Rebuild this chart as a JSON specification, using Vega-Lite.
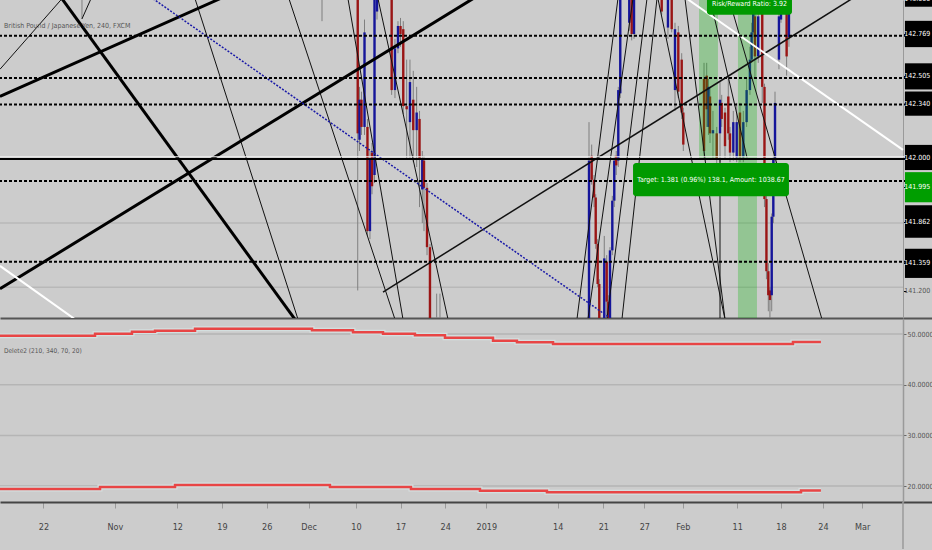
{
  "$schema": "https://vega.github.io/schema/vega-lite/v6.json",
  "background": "#cccccc",
  "padding": 0,
  "spacing": 1,
  "config": {
    "view": {"stroke": null},
    "font": "Liberation Sans Narrow, DejaVu Sans Condensed, Liberation Sans, sans-serif"
  },
  "datasets": {
    "candles": [
      {"d":4.32,"o":143.5,"h":143.6,"l":142.874,"c":143.4},
      {"d":31.2,"o":143.5,"h":143.6,"l":142.86,"c":143.3},
      {"d":35.2,"o":143.5,"h":143.6,"l":141.18,"c":142.16},
      {"d":35.4,"o":142.12,"h":142.45,"l":142.05,"c":142.37},
      {"d":35.62,"o":142.37,"h":142.42,"l":142.15,"c":142.2},
      {"d":35.96,"o":142.2,"h":142.87,"l":142.15,"c":142.79},
      {"d":36.29,"o":142.2,"h":142.25,"l":141.52,"c":141.55},
      {"d":36.57,"o":141.55,"h":142.05,"l":141.5,"c":142.0},
      {"d":36.8,"o":142.04,"h":142.1,"l":141.78,"c":141.83},
      {"d":37.08,"o":141.9,"h":143.6,"l":141.85,"c":143.5},
      {"d":37.36,"o":142.92,"h":143.4,"l":142.87,"c":143.3},
      {"d":39.0,"o":143.3,"h":143.4,"l":142.4,"c":142.43},
      {"d":39.37,"o":142.43,"h":142.75,"l":142.38,"c":142.69},
      {"d":39.71,"o":142.69,"h":142.86,"l":142.66,"c":142.83},
      {"d":39.99,"o":142.83,"h":142.88,"l":142.7,"c":142.78},
      {"d":40.3,"o":142.81,"h":142.86,"l":142.28,"c":142.33},
      {"d":40.68,"o":142.33,"h":142.62,"l":142.0,"c":142.31},
      {"d":41.05,"o":142.23,"h":142.62,"l":142.0,"c":142.48},
      {"d":41.42,"o":142.37,"h":142.55,"l":141.98,"c":142.18},
      {"d":41.8,"o":142.18,"h":142.45,"l":141.95,"c":142.29},
      {"d":42.12,"o":142.25,"h":142.3,"l":141.7,"c":142.0},
      {"d":42.43,"o":141.81,"h":142.05,"l":141.6,"c":142.0},
      {"d":42.62,"o":141.99,"h":142.02,"l":141.55,"c":141.82},
      {"d":42.96,"o":141.82,"h":141.85,"l":141.4,"c":141.45},
      {"d":43.29,"o":141.45,"h":141.47,"l":140.4,"c":140.5},
      {"d":44.04,"o":140.5,"h":141.16,"l":140.3,"c":140.7},
      {"d":44.41,"o":140.6,"h":141.16,"l":140.5,"c":140.8},
      {"d":61.1,"o":140.5,"h":142.23,"l":140.4,"c":141.99},
      {"d":61.4,"o":142.02,"h":142.09,"l":141.84,"c":141.87},
      {"d":61.66,"o":141.87,"h":141.9,"l":141.7,"c":141.76},
      {"d":61.85,"o":141.76,"h":141.78,"l":141.44,"c":141.47},
      {"d":62.07,"o":141.47,"h":141.5,"l":141.2,"c":141.22},
      {"d":62.25,"o":141.22,"h":141.25,"l":140.7,"c":140.8},
      {"d":62.81,"o":140.8,"h":141.52,"l":140.7,"c":141.38},
      {"d":63.08,"o":141.36,"h":141.4,"l":141.0,"c":141.11},
      {"d":63.26,"o":141.11,"h":141.15,"l":140.7,"c":140.8},
      {"d":63.45,"o":140.9,"h":141.45,"l":140.85,"c":141.43},
      {"d":63.71,"o":141.43,"h":141.77,"l":141.4,"c":141.74},
      {"d":63.93,"o":141.74,"h":142.02,"l":141.7,"c":141.99},
      {"d":64.15,"o":142.02,"h":142.05,"l":141.9,"c":141.96},
      {"d":64.38,"o":141.99,"h":142.45,"l":141.95,"c":142.43},
      {"d":64.6,"o":142.41,"h":143.4,"l":142.38,"c":143.3},
      {"d":65.61,"o":142.85,"h":143.4,"l":142.8,"c":143.3},
      {"d":65.88,"o":143.2,"h":143.3,"l":142.74,"c":142.78},
      {"d":66.14,"o":142.78,"h":143.3,"l":142.75,"c":143.2},
      {"d":69.24,"o":143.2,"h":143.3,"l":142.9,"c":142.92},
      {"d":69.94,"o":142.82,"h":143.3,"l":142.75,"c":143.2},
      {"d":70.36,"o":143.2,"h":143.3,"l":142.79,"c":142.81},
      {"d":70.73,"o":142.43,"h":142.85,"l":142.3,"c":142.81},
      {"d":71.1,"o":142.79,"h":142.83,"l":142.38,"c":142.42},
      {"d":71.48,"o":142.62,"h":142.66,"l":142.25,"c":142.29},
      {"d":71.66,"o":142.29,"h":142.32,"l":142.05,"c":142.09},
      {"d":73.98,"o":142.5,"h":142.6,"l":142.0,"c":142.05},
      {"d":74.28,"o":142.52,"h":142.6,"l":142.2,"c":142.31},
      {"d":74.48,"o":142.2,"h":142.5,"l":142.15,"c":142.45},
      {"d":74.65,"o":142.39,"h":142.45,"l":142.1,"c":142.16},
      {"d":74.98,"o":142.16,"h":142.3,"l":142.0,"c":142.18},
      {"d":75.4,"o":142.16,"h":142.2,"l":141.96,"c":142.0},
      {"d":75.77,"o":142.16,"h":142.48,"l":141.98,"c":142.37},
      {"d":75.96,"o":142.35,"h":142.4,"l":142.2,"c":142.25},
      {"d":76.33,"o":142.29,"h":142.32,"l":142.0,"c":142.08},
      {"d":76.7,"o":142.39,"h":142.5,"l":142.12,"c":142.16},
      {"d":76.89,"o":142.16,"h":142.2,"l":141.98,"c":142.04},
      {"d":77.26,"o":142.04,"h":142.3,"l":141.99,"c":142.23},
      {"d":77.64,"o":142.01,"h":142.35,"l":141.98,"c":142.23},
      {"d":78.01,"o":142.29,"h":142.35,"l":141.98,"c":142.01},
      {"d":78.38,"o":142.01,"h":142.3,"l":141.98,"c":142.23},
      {"d":78.75,"o":142.23,"h":142.5,"l":142.2,"c":142.43},
      {"d":79.12,"o":142.43,"h":142.7,"l":142.4,"c":142.62},
      {"d":79.31,"o":142.62,"h":142.85,"l":142.6,"c":142.79},
      {"d":79.49,"o":142.79,"h":143.3,"l":142.76,"c":143.2},
      {"d":79.68,"o":142.89,"h":142.95,"l":142.5,"c":142.64},
      {"d":80.05,"o":142.64,"h":143.0,"l":142.6,"c":142.89},
      {"d":80.5,"o":143.3,"h":143.4,"l":142.35,"c":142.45},
      {"d":80.75,"o":142.45,"h":142.47,"l":141.7,"c":141.75},
      {"d":80.97,"o":141.75,"h":141.78,"l":141.25,"c":141.3},
      {"d":81.18,"o":141.3,"h":141.35,"l":141.05,"c":141.15},
      {"d":81.36,"o":141.18,"h":141.2,"l":141.0,"c":141.12},
      {"d":81.56,"o":141.15,"h":141.66,"l":141.05,"c":141.64},
      {"d":81.74,"o":141.64,"h":142.02,"l":141.6,"c":142.0},
      {"d":81.93,"o":142.0,"h":142.42,"l":141.97,"c":142.35},
      {"d":82.37,"o":142.62,"h":142.92,"l":142.56,"c":142.89},
      {"d":82.6,"o":142.87,"h":143.3,"l":142.85,"c":143.2},
      {"d":83.23,"o":143.1,"h":143.3,"l":142.52,"c":142.64},
      {"d":83.49,"o":142.76,"h":143.3,"l":142.7,"c":143.2}
    ],
    "lines": [
      {"k":"thick","d1":-4.86,"p1":142.39,"d2":19.78,"p2":143.0},
      {"k":"thick","d1":-4.86,"p1":141.19,"d2":48.1,"p2":143.0},
      {"k":"thick","d1":2.08,"p1":143.0,"d2":28.17,"p2":141.0},
      {"k":"thin","d1":-4.86,"p1":142.56,"d2":2.08,"p2":143.0},
      {"k":"thin","d1":4.32,"p1":142.874,"d2":5.33,"p2":143.0},
      {"k":"thin","d1":16.98,"p1":143.0,"d2":28.51,"p2":141.0},
      {"k":"thin","d1":27.5,"p1":143.0,"d2":39.37,"p2":141.0},
      {"k":"thin","d1":34.11,"p1":143.0,"d2":40.27,"p2":141.0},
      {"k":"thin","d1":37.47,"p1":143.0,"d2":45.31,"p2":141.0},
      {"k":"mid","d1":38.03,"p1":141.17,"d2":90.55,"p2":143.0},
      {"k":"thin","d1":59.75,"p1":141.0,"d2":64.34,"p2":143.0},
      {"k":"thin","d1":60.98,"p1":141.0,"d2":66.02,"p2":143.0},
      {"k":"thin","d1":63.11,"p1":141.0,"d2":67.59,"p2":143.0},
      {"k":"thin","d1":64.79,"p1":141.0,"d2":68.71,"p2":143.0},
      {"k":"thin","d1":68.82,"p1":143.0,"d2":76.33,"p2":141.0},
      {"k":"thin","d1":71.85,"p1":143.0,"d2":76.33,"p2":141.0},
      {"k":"thin","d1":76.77,"p1":143.0,"d2":87.19,"p2":141.0},
      {"k":"thin","d1":75.77,"p1":142.0,"d2":75.77,"p2":141.0},
      {"k":"thin","d1":74.65,"p1":143.0,"d2":78.79,"p2":142.01},
      {"k":"blue","d1":12.27,"p1":143.0,"d2":63.67,"p2":141.0},
      {"k":"white","d1":-4.86,"p1":141.333,"d2":3.54,"p2":141.0},
      {"k":"white","d1":72.07,"p1":143.0,"d2":96.26,"p2":142.057}
    ],
    "tags": [
      {"t":"143.000","kind":"drawing","y1":143.05,"y2":142.95,"ym":143.0},
      {"t":"142.769","kind":"drawing","y1":142.862,"y2":142.698,"ym":142.78},
      {"t":"142.505","kind":"drawing","y1":142.597,"y2":142.434,"ym":142.516},
      {"t":"142.340","kind":"drawing","y1":142.421,"y2":142.27,"ym":142.346},
      {"t":"142.000","kind":"drawing","y1":142.088,"y2":141.931,"ym":142.006},
      {"t":"141.995","kind":"price","y1":141.918,"y2":141.73,"ym":141.824},
      {"t":"141.862","kind":"drawing","y1":141.711,"y2":141.509,"ym":141.61},
      {"t":"141.359","kind":"drawing","y1":141.44,"y2":141.258,"ym":141.352},
      {"t":"141.200","kind":"axis","y1":141.176,"y2":141.176,"ym":141.176}
    ],
    "steps": [
      {"s":"hi","d":-4.86,"v":49.66},{"s":"hi","d":5.78,"v":50.06},{"s":"hi","d":9.92,"v":50.45},
      {"s":"hi","d":12.5,"v":50.65},{"s":"hi","d":16.98,"v":51.05},{"s":"hi","d":30.08,"v":50.73},
      {"s":"hi","d":34.67,"v":50.34},{"s":"hi","d":38.03,"v":50.06},{"s":"hi","d":41.61,"v":49.74},
      {"s":"hi","d":44.97,"v":49.27},{"s":"hi","d":50.35,"v":48.68},{"s":"hi","d":53.03,"v":48.36},
      {"s":"hi","d":57.07,"v":48.03},{"s":"hi","d":83.94,"v":48.42},{"s":"hi","d":87.07,"v":48.42},
      {"s":"lo","d":-4.86,"v":19.41},{"s":"lo","d":6.34,"v":19.8},{"s":"lo","d":14.74,"v":20.2},
      {"s":"lo","d":32.09,"v":19.8},{"s":"lo","d":41.16,"v":19.41},{"s":"lo","d":48.89,"v":19.07},
      {"s":"lo","d":56.39,"v":18.76},{"s":"lo","d":84.84,"v":19.15},{"s":"lo","d":87.07,"v":19.15}
    ]
  },
  "vconcat": [
    {
      "width": 932,
      "height": 318,
      "layer": [
        {
          "data": {"values": [{"g": 141.2}, {"g": 141.6}]},
          "mark": {"type": "rule", "color": "#b8b8b8", "strokeWidth": 1.5, "clip": true},
          "encoding": {
            "y": {"field": "g", "type": "quantitative", "scale": {"domain": [141.008, 142.992], "nice": false, "zero": false},
              "axis": {"orient": "right", "offset": -29, "title": null, "labels": false, "grid": false,
                "values": [142.78, 142.516, 142.346, 142.006, 141.824, 141.61, 141.352, 141.176],
                "tickSize": 3, "tickColor": "#000000", "tickWidth": 1, "domain": true, "domainColor": "#9a9a9a", "domainWidth": 1}},
            "x": {"datum": -4.86, "type": "quantitative", "scale": {"domain": [-4.86, 99.51], "nice": false, "zero": false},
              "axis": {"orient": "bottom", "title": null, "labels": false, "ticks": false, "grid": false, "domain": true, "domainColor": "#555555", "domainWidth": 2}},
            "x2": {"datum": 96.26}
          }
        },
        {
          "data": {"name": "candles"},
          "mark": {"type": "rule", "color": "#7f7f7f", "strokeWidth": 1, "clip": true},
          "encoding": {
            "x": {"field": "d", "type": "quantitative"},
            "y": {"field": "l", "type": "quantitative"},
            "y2": {"field": "h"}
          }
        },
        {
          "data": {"name": "candles"},
          "mark": {"type": "rule", "strokeWidth": 2.4, "clip": true},
          "encoding": {
            "x": {"field": "d", "type": "quantitative"},
            "y": {"field": "o", "type": "quantitative"},
            "y2": {"field": "c"},
            "color": {"condition": {"test": "datum.c >= datum.o", "value": "#15159a"}, "value": "#9a1515"}
          }
        },
        {
          "data": {"values": [{"x1": 73.42, "x2": 75.54, "p1": 143.0, "p2": 142.0}, {"x1": 77.78, "x2": 79.91, "p1": 142.9, "p2": 140.9}]},
          "mark": {"type": "rect", "color": "#00b400", "opacity": 0.28, "clip": true},
          "encoding": {
            "x": {"field": "x1", "type": "quantitative"},
            "x2": {"field": "x2"},
            "y": {"field": "p1", "type": "quantitative"},
            "y2": {"field": "p2"}
          }
        },
        {
          "data": {"name": "lines"},
          "transform": [{"filter": "datum.k == 'thin'"}],
          "mark": {"type": "rule", "color": "#111111", "strokeWidth": 1, "clip": true},
          "encoding": {
            "x": {"field": "d1", "type": "quantitative"}, "x2": {"field": "d2"},
            "y": {"field": "p1", "type": "quantitative"}, "y2": {"field": "p2"}
          }
        },
        {
          "data": {"name": "lines"},
          "transform": [{"filter": "datum.k == 'mid'"}],
          "mark": {"type": "rule", "color": "#111111", "strokeWidth": 1.5, "clip": true},
          "encoding": {
            "x": {"field": "d1", "type": "quantitative"}, "x2": {"field": "d2"},
            "y": {"field": "p1", "type": "quantitative"}, "y2": {"field": "p2"}
          }
        },
        {
          "data": {"name": "lines"},
          "transform": [{"filter": "datum.k == 'thick'"}],
          "mark": {"type": "rule", "color": "#000000", "strokeWidth": 3, "clip": true},
          "encoding": {
            "x": {"field": "d1", "type": "quantitative"}, "x2": {"field": "d2"},
            "y": {"field": "p1", "type": "quantitative"}, "y2": {"field": "p2"}
          }
        },
        {
          "data": {"name": "lines"},
          "transform": [{"filter": "datum.k == 'blue'"}],
          "mark": {"type": "rule", "color": "#1a1aa8", "strokeWidth": 1.5, "strokeDash": [2, 1.5], "clip": true},
          "encoding": {
            "x": {"field": "d1", "type": "quantitative"}, "x2": {"field": "d2"},
            "y": {"field": "p1", "type": "quantitative"}, "y2": {"field": "p2"}
          }
        },
        {
          "data": {"name": "lines"},
          "transform": [{"filter": "datum.k == 'white'"}],
          "mark": {"type": "rule", "color": "#ffffff", "strokeWidth": 2, "clip": true},
          "encoding": {
            "x": {"field": "d1", "type": "quantitative"}, "x2": {"field": "d2"},
            "y": {"field": "p1", "type": "quantitative"}, "y2": {"field": "p2"}
          }
        },
        {
          "data": {"values": [{"v": 142.769}, {"v": 142.505}, {"v": 142.34}, {"v": 141.862}, {"v": 141.359}]},
          "mark": {"type": "rule", "color": "#000000", "strokeWidth": 2, "strokeDash": [3, 2], "clip": true},
          "encoding": {"y": {"field": "v", "type": "quantitative"}}
        },
        {
          "data": {"values": [{"v": 142.014}]},
          "mark": {"type": "rule", "color": "#f2f2f2", "strokeWidth": 1, "clip": true},
          "encoding": {"y": {"field": "v", "type": "quantitative"}}
        },
        {
          "data": {"values": [{"v": 142.0}]},
          "mark": {"type": "rule", "color": "#000000", "strokeWidth": 2, "clip": true},
          "encoding": {"y": {"field": "v", "type": "quantitative"}}
        },
        {
          "data": {"values": [
            {"t": "Risk/Reward Ratio: 3.92", "x1": 74.31, "x2": 83.83, "xm": 79.07, "y1": 143.06, "y2": 142.9, "ym": 142.965},
            {"t": "Target: 1.381 (0.96%) 138.1, Amount: 1038.67", "x1": 66.03, "x2": 83.49, "xm": 74.76, "y1": 141.975, "y2": 141.767, "ym": 141.87}
          ]},
          "layer": [
            {
              "mark": {"type": "rect", "color": "#009a00", "cornerRadius": 3, "clip": true},
              "encoding": {
                "x": {"field": "x1", "type": "quantitative"}, "x2": {"field": "x2"},
                "y": {"field": "y1", "type": "quantitative"}, "y2": {"field": "y2"}
              }
            },
            {
              "mark": {"type": "text", "color": "#ffffff", "fontSize": 7, "clip": true},
              "encoding": {
                "x": {"field": "xm", "type": "quantitative"},
                "y": {"field": "ym", "type": "quantitative"},
                "text": {"field": "t"}
              }
            }
          ]
        },
        {
          "data": {"name": "tags"},
          "transform": [{"filter": "datum.kind != 'axis'"}],
          "mark": {"type": "rect", "clip": true},
          "encoding": {
            "x": {"datum": 96.48, "type": "quantitative"}, "x2": {"datum": 99.8},
            "y": {"field": "y1", "type": "quantitative"}, "y2": {"field": "y2"},
            "color": {"field": "kind", "type": "nominal", "scale": {"domain": ["drawing", "price"], "range": ["#000000", "#009e00"]}, "legend": null}
          }
        },
        {
          "data": {"name": "tags"},
          "mark": {"type": "text", "fontSize": 7, "clip": true},
          "encoding": {
            "x": {"datum": 97.86, "type": "quantitative"},
            "y": {"field": "ym", "type": "quantitative"},
            "text": {"field": "t"},
            "color": {"condition": {"test": "datum.kind == 'axis'", "value": "#555555"}, "value": "#ffffff"}
          }
        },
        {
          "data": {"values": [{"t": "British Pound / Japanese Yen, 240, FXCM"}]},
          "mark": {"type": "text", "color": "#555555", "fontSize": 7, "align": "left", "clip": true},
          "encoding": {
            "x": {"datum": -4.41, "type": "quantitative"},
            "y": {"datum": 142.83, "type": "quantitative"},
            "text": {"field": "t"}
          }
        }
      ]
    },
    {
      "width": 932,
      "height": 183,
      "layer": [
        {
          "data": {"values": [{"g": 20}, {"g": 30}, {"g": 40}, {"g": 50}]},
          "mark": {"type": "rule", "color": "#b5b5b5", "strokeWidth": 1.5, "clip": true},
          "encoding": {
            "y": {"field": "g", "type": "quantitative", "scale": {"domain": [16.86, 52.96], "nice": false, "zero": false},
              "axis": {"orient": "right", "offset": -29, "title": null, "grid": false, "values": [20, 30, 40, 50], "format": ".4f",
                "labelColor": "#555555", "labelFontSize": 7, "labelPadding": 1, "tickSize": 3, "tickColor": "#666666",
                "domain": true, "domainColor": "#9a9a9a", "domainWidth": 1.5}},
            "x": {"datum": -4.86, "type": "quantitative", "scale": {"domain": [-4.86, 99.51], "nice": false, "zero": false},
              "axis": {"orient": "bottom", "title": null, "grid": false,
                "values": [0, 8, 15, 20, 25, 29.7, 35, 40, 45, 49.6, 57.6, 62.7, 67.3, 71.6, 77.7, 82.6, 87.3, 91.7],
                "labelExpr": "['22','Nov','12','19','26','Dec','10','17','24','2019','14','21','27','Feb','11','18','24','Mar'][indexof([0,8,15,20,25,29.7,35,40,45,49.6,57.6,62.7,67.3,71.6,77.7,82.6,87.3,91.7], datum.value)]",
                "tickSize": 6, "tickColor": "#999999", "domainColor": "#444444", "domainWidth": 2,
                "labelColor": "#444444", "labelFontSize": 9, "labelPadding": 14, "labelFlush": false, "labelOverlap": false}},
            "x2": {"datum": 96.26}
          }
        },
        {
          "data": {"values": [{}]},
          "mark": {"type": "rule", "color": "#9a9a9a", "strokeWidth": 1.5},
          "encoding": {
            "x": {"datum": 96.26, "type": "quantitative"},
            "y": {"datum": 16.86, "type": "quantitative"},
            "y2": {"datum": 7.6}
          }
        },
        {
          "data": {"name": "steps"},
          "mark": {"type": "line", "interpolate": "step-after", "color": "#d4dfdf", "strokeWidth": 5, "clip": true},
          "encoding": {
            "x": {"field": "d", "type": "quantitative"},
            "y": {"field": "v", "type": "quantitative"},
            "detail": {"field": "s"}
          }
        },
        {
          "data": {"name": "steps"},
          "mark": {"type": "line", "interpolate": "step-after", "color": "#e84545", "strokeWidth": 2.5, "clip": true},
          "encoding": {
            "x": {"field": "d", "type": "quantitative"},
            "y": {"field": "v", "type": "quantitative"},
            "detail": {"field": "s"}
          }
        },
        {
          "data": {"values": [{"t": "Delete2 (210, 340, 70, 20)"}]},
          "mark": {"type": "text", "color": "#555555", "fontSize": 6.5, "align": "left"},
          "encoding": {
            "x": {"datum": -4.41, "type": "quantitative"},
            "y": {"datum": 46.65, "type": "quantitative"},
            "text": {"field": "t"}
          }
        }
      ]
    }
  ]
}
